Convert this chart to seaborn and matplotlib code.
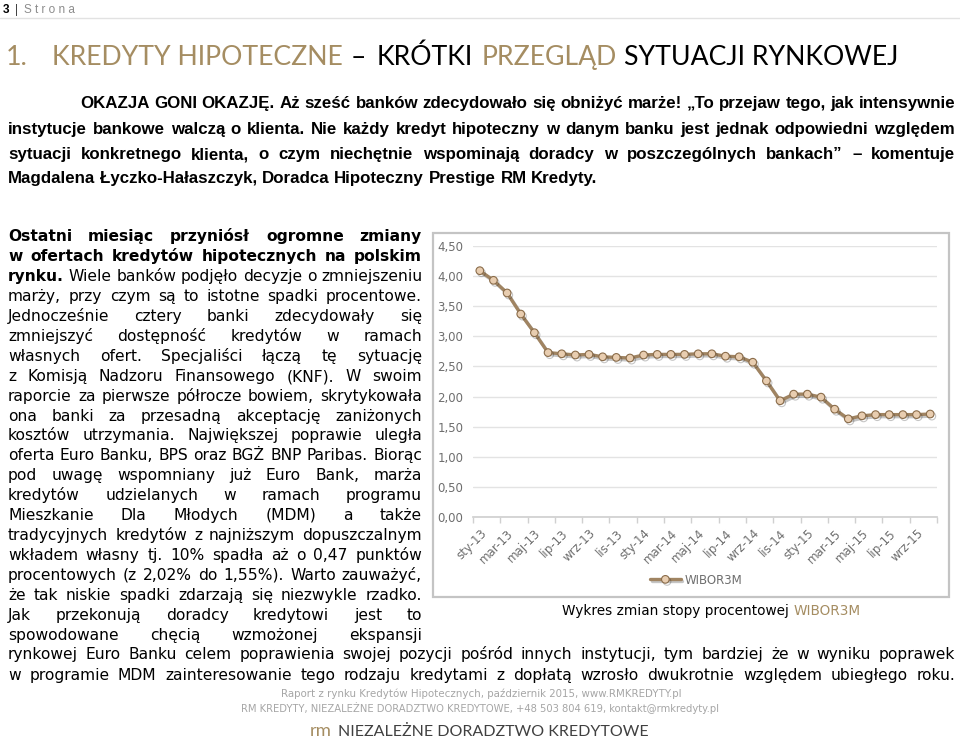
import numpy as np
import pandas as pd
import seaborn as sns
import matplotlib
matplotlib.use("Agg")
import matplotlib.pyplot as plt
import matplotlib.patheffects as pe
from matplotlib.patches import Rectangle
from matplotlib import font_manager as fm

# ---------------- data ----------------
months = ["sty-13", "lut-13", "mar-13", "kwi-13", "maj-13", "cze-13", "lip-13", "sie-13",
          "wrz-13", "paź-13", "lis-13", "gru-13", "sty-14", "lut-14", "mar-14", "kwi-14",
          "maj-14", "cze-14", "lip-14", "sie-14", "wrz-14", "paź-14", "lis-14", "gru-14",
          "sty-15", "lut-15", "mar-15", "kwi-15", "maj-15", "cze-15", "lip-15", "sie-15",
          "wrz-15", "paź-15"]
wibor3m = [4.09, 3.93, 3.72, 3.37, 3.06, 2.73, 2.71, 2.69, 2.70, 2.66, 2.65, 2.64,
           2.69, 2.70, 2.70, 2.70, 2.71, 2.71, 2.67, 2.66, 2.57, 2.26, 1.93, 2.04,
           2.04, 1.99, 1.79, 1.63, 1.68, 1.70, 1.70, 1.70, 1.70, 1.71]
tick_labels = ["sty-13", "mar-13", "maj-13", "lip-13", "wrz-13", "lis-13", "sty-14",
               "mar-14", "maj-14", "lip-14", "wrz-14", "lis-14", "sty-15", "mar-15",
               "maj-15", "lip-15", "wrz-15"]
y_ticks = [0.0, 0.5, 1.0, 1.5, 2.0, 2.5, 3.0, 3.5, 4.0, 4.5]

TAN = "#a58d62"
GREY = "#6e6e6e"

def has_font(name):
    try:
        fm.findfont(fm.FontProperties(family=name), fallback_to_default=False)
        return True
    except Exception:
        return False

NARROW = "Liberation Sans" if has_font("Liberation Sans") else "DejaVu Sans"
TITLE = "Lato" if has_font("Lato") else "DejaVu Sans"
BODY = "DejaVu Sans"

sns.set_theme(style="white")
plt.rcParams["font.family"] = ["DejaVu Sans"]

W, H = 960, 741
fig = plt.figure(figsize=(W / 100, H / 100), dpi=100)
fig.patch.set_facecolor("white")
renderer = fig.canvas.get_renderer()

def X(x):
    return x / W

def Y(y):
    return 1 - round(y) / H

def text_width(s, size, family, weight="normal"):
    t = fig.text(0, 0, s, fontsize=size, family=family, weight=weight)
    w = t.get_window_extent(renderer).width
    t.remove()
    return w

def space_width(size, family, weight="normal"):
    return text_width("n n", size, family, weight) - text_width("nn", size, family, weight)

def tokens_of(segments):
    toks = []
    for s, weight, color in segments:
        for w in s.split():
            toks.append((w, weight, color))
    return toks

def natural_width(segments, size, family):
    toks = tokens_of(segments)
    tot = sum(text_width(w, size, family, wt) for w, wt, c in toks)
    return tot + (len(toks) - 1) * space_width(size, family)

def place_line(segments, x0, x1, y, size, family, justify=True):
    toks = tokens_of(segments)
    widths = [text_width(w, size, family, wt) for w, wt, c in toks]
    if justify and len(toks) > 1:
        gap = (x1 - x0 - sum(widths)) / (len(toks) - 1)
    else:
        gap = space_width(size, family)
    x = x0
    for (w, wt, c), wd in zip(toks, widths):
        fig.text(X(x), Y(y), w, fontsize=size, family=family, weight=wt, color=c,
                 ha="left", va="baseline")
        x += wd + gap

def fit_size(lines, avail, base, family):
    s = base
    for segs in lines:
        nw = natural_width(segs, base, family)
        s = min(s, base * avail / nw)
    return s

def place_seq(segments, x, y, size, family, va="baseline"):
    for s, wt, c in segments:
        t = fig.text(X(x), Y(y), s, fontsize=size, family=family, weight=wt, color=c,
                     ha="left", va=va)
        x += t.get_window_extent(renderer).width
    return x

# ---------------- header ----------------
fig.text(X(3), Y(13), "3", fontsize=8.5, weight="bold", color="black", family="Liberation Sans")
fig.text(X(15), Y(13), "|", fontsize=8.5, color="#444444", family="Liberation Sans")
fig.text(X(24), Y(13), "S t r o n a", fontsize=8.5, color="#8c8c8c", family="Liberation Sans")
fig.add_artist(plt.Line2D([0, 1], [Y(18), Y(18)], transform=fig.transFigure,
                          color="#e2e2e2", lw=1))

# ---------------- title ----------------
tsize = 22 * 291 / text_width("KREDYTY HIPOTECZNE", 22, TITLE)
tb = 65
for xs, s, c in [(6, "1.", TAN), (52, "KREDYTY HIPOTECZNE", TAN), (351, "–", "black"),
                 (377, "KRÓTKI", "black"), (482, "PRZEGLĄD", TAN),
                 (624, "SYTUACJI RYNKOWEJ", "black")]:
    fig.text(X(xs), Y(tb), s, fontsize=tsize, family=TITLE, color=c, va="baseline")

# ---------------- top bold paragraph ----------------
top_lines = [
    [("OKAZJA GONI OKAZJĘ. Aż sześć banków zdecydowało się obniżyć marże! „To przejaw tego, jak intensywnie", "bold", "black")],
    [("instytucje bankowe walczą o klienta. Nie każdy kredyt hipoteczny w danym banku jest jednak odpowiedni względem", "bold", "black")],
    [("sytuacji konkretnego klienta, o czym niechętnie wspominają doradcy w poszczególnych bankach” – komentuje", "bold", "black")],
    [("Magdalena Łyczko-Hałaszczyk, Doradca Hipoteczny Prestige RM Kredyty.", "bold", "black")],
]
ps = fit_size(top_lines[1:3], 947, 13, NARROW)
ps = min(ps, fit_size(top_lines[:1], 875, 13, NARROW))
top_base = [108, 134, 159, 183]
place_line(top_lines[0], 80, 955, top_base[0], ps, NARROW)
place_line(top_lines[1], 8, 955, top_base[1], ps, NARROW)
place_line(top_lines[2], 8, 955, top_base[2], ps, NARROW)
place_line(top_lines[3], 8, 955, top_base[3], ps, NARROW, justify=False)

# ---------------- left column ----------------
B, N = "bold", "normal"
K = "black"
col_lines = [
    [("Ostatni miesiąc przyniósł ogromne zmiany", B, K)],
    [("w ofertach kredytów hipotecznych na polskim", B, K)],
    [("rynku.", B, K), ("Wiele banków podjęło decyzje o zmniejszeniu", N, K)],
    [("marży, przy czym są to istotne spadki procentowe.", N, K)],
    [("Jednocześnie cztery banki zdecydowały się", N, K)],
    [("zmniejszyć dostępność kredytów w ramach", N, K)],
    [("własnych ofert. Specjaliści łączą tę sytuację", N, K)],
    [("z Komisją Nadzoru Finansowego (KNF). W swoim", N, K)],
    [("raporcie za pierwsze półrocze bowiem, skrytykowała", N, K)],
    [("ona banki za przesadną akceptację zaniżonych", N, K)],
    [("kosztów utrzymania. Największej poprawie uległa", N, K)],
    [("oferta Euro Banku, BPS oraz BGŻ BNP Paribas. Biorąc", N, K)],
    [("pod uwagę wspomniany już Euro Bank, marża", N, K)],
    [("kredytów udzielanych w ramach programu", N, K)],
    [("Mieszkanie Dla Młodych (MDM) a także", N, K)],
    [("tradycyjnych kredytów z najniższym dopuszczalnym", N, K)],
    [("wkładem własny tj. 10% spadła aż o 0,47 punktów", N, K)],
    [("procentowych (z 2,02% do 1,55%). Warto zauważyć,", N, K)],
    [("że tak niskie spadki zdarzają się niezwykle rzadko.", N, K)],
    [("Jak przekonują doradcy kredytowi jest to", N, K)],
    [("spowodowane chęcią wzmożonej ekspansji", N, K)],
]
wide_lines = [
    [("rynkowej Euro Banku celem poprawienia swojej pozycji pośród innych instytucji, tym bardziej że w wyniku poprawek", N, K)],
    [("w programie MDM zainteresowanie tego rodzaju kredytami z dopłatą wzrosło dwukrotnie względem ubiegłego roku.", N, K)],
]
bs = fit_size(col_lines, 414, 12, BODY)
bs = min(bs, fit_size(wide_lines, 947, 12, BODY))
for i, segs in enumerate(col_lines):
    place_line(segs, 8, 422, 241 + 19.95 * i, bs, BODY)
place_line(wide_lines[0], 8, 955, 659, bs, BODY)
place_line(wide_lines[1], 8, 955, 680, bs, BODY)

# ---------------- chart ----------------
fig.add_artist(Rectangle((X(433), Y(597)), (949 - 433) / W, (597 - 233) / H,
                         transform=fig.transFigure, fill=False, ec="#c4c4c4", lw=1.6))

ax = fig.add_axes([X(473), Y(517), (937 - 473) / W, (517 - 246) / H])
df = pd.DataFrame({"miesiac": months, "WIBOR3M": wibor3m})
sns.lineplot(data=df, x="miesiac", y="WIBOR3M", sort=False, ax=ax, color="#a08462",
             lw=2.4, marker="o", markersize=5.5, markerfacecolor="#e8cdb0",
             markeredgecolor="#8a6c4a", markeredgewidth=0.8, label="WIBOR3M",
             path_effects=[pe.SimpleLineShadow(offset=(1.2, -1.5), alpha=0.25),
                           pe.Normal()])
ax.set_xlim(-0.5, len(months) - 0.5)
ax.set_ylim(0, 4.5)
ax.set_yticks(y_ticks)
ax.set_yticklabels([f"{v:.2f}".replace(".", ",") for v in y_ticks],
                   fontsize=8.5, color=GREY)
ax.set_xticks(range(0, len(months), 2))
ax.set_xticklabels(tick_labels, rotation=45, ha="right", rotation_mode="anchor",
                   fontsize=8.5, color=GREY)
ax.set_xticks(np.arange(-0.5, len(months), 2), minor=True)
ax.tick_params(axis="x", which="major", length=0, pad=7)
ax.tick_params(axis="x", which="minor", length=4, color="#d0d0d0", width=1, bottom=True)
ax.tick_params(axis="y", length=0, pad=7)
ax.grid(axis="y", color="#e3e3e3", lw=1)
ax.grid(axis="x", visible=False)
for s in ["top", "right", "left"]:
    ax.spines[s].set_visible(False)
ax.spines["bottom"].set_color("#d0d0d0")
ax.set_xlabel("")
ax.set_ylabel("")
ax.set_facecolor("none")
ax.legend(loc="center", bbox_to_anchor=(X(696), Y(580)), bbox_transform=fig.transFigure,
          frameon=False, fontsize=8.5, labelcolor=GREY, handlelength=2.6, handletextpad=0.3)

# caption
cs = 12 * 296 / text_width("Wykres zmian stopy procentowej WIBOR3M", 12, BODY)
place_seq([("Wykres zmian stopy procentowej ", N, K), ("WIBOR3M", N, TAN)], 562, 615, cs, BODY)

# ---------------- footer ----------------
f1 = "Raport z rynku Kredytów Hipotecznych, październik 2015, www.RMKREDYTY.pl"
f2 = "RM KREDYTY, NIEZALEŻNE DORADZTWO KREDYTOWE, +48 503 804 619, kontakt@rmkredyty.pl"
fs1 = 8 * 403 / text_width(f1, 8, BODY)
fig.text(X(481), Y(697), f1, fontsize=fs1, family=BODY, color="#a6a6a6", ha="center", va="baseline")
fs2 = 8 * 480 / text_width(f2, 8, BODY)
fig.text(X(480), Y(712), f2, fontsize=fs2, family=BODY, color="#a6a6a6", ha="center", va="baseline")
logo = "NIEZALEŻNE DORADZTWO KREDYTOWE"
ls = 11 * 310 / text_width(logo, 11, TITLE)
fig.text(X(310), Y(736), "rm", fontsize=ls * 1.15, family=TITLE, color=TAN, va="baseline")
fig.text(X(338), Y(736), logo, fontsize=ls, family=TITLE, color="#404040", va="baseline")

fig.savefig("out.png", dpi=100, facecolor="white")
